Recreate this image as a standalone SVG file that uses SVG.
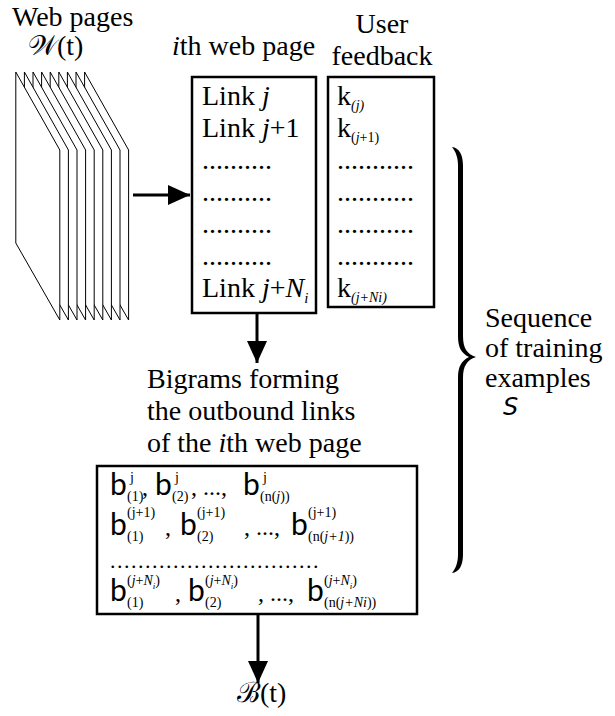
<svg xmlns="http://www.w3.org/2000/svg" width="615" height="716" viewBox="0 0 615 716">
<style>
.t{font-family:"Liberation Serif","Times New Roman","DejaVu Serif",serif;font-size:28px;fill:#000}
.b{font-family:Lato,"DejaVu Sans",sans-serif;font-size:30px;fill:#000}
.s{font-family:"Liberation Serif","Times New Roman","DejaVu Serif",serif;font-size:14px;fill:#000}
.c{font-family:"Liberation Serif","Times New Roman","DejaVu Serif",serif;font-size:24px;fill:#000}
.d{font-family:"Liberation Serif","Times New Roman","DejaVu Serif",serif;font-size:22px;letter-spacing:1.5px;fill:#000}
.i{font-style:italic}
.box{fill:#fff;stroke:#000;stroke-width:2.5}
.page{fill:#fff;stroke:#000;stroke-width:1}
.conn{stroke:#000;stroke-width:3;fill:none}
</style>
<defs>
<marker id="ah" markerUnits="userSpaceOnUse" markerWidth="22" markerHeight="20" refX="22" refY="10" orient="auto">
<path d="M0,0 L22,10 L0,20 Z" fill="#000"/>
</marker>
</defs>
<rect width="615" height="716" fill="#fff"/>

<g id="web-pages">
<text class="t" x="12" y="26">Web pages</text>
<text class="t" x="28" y="55">𝒲(t)</text>
<polygon class="page" points="84.6,72 128.6,150 128.6,320 84.6,243"/>
<polygon class="page" points="76,72 120,150 120,320 76,243"/>
<polygon class="page" points="67.4,72 111.4,150 111.4,320 67.4,243"/>
<polygon class="page" points="58.8,72 102.8,150 102.8,320 58.8,243"/>
<polygon class="page" points="50.2,72 94.2,150 94.2,320 50.2,243"/>
<polygon class="page" points="41.6,72 85.6,150 85.6,320 41.6,243"/>
<polygon class="page" points="33,72 77,150 77,320 33,243"/>
<polygon class="page" points="24.4,72 68.4,150 68.4,320 24.4,243"/>
<polygon class="page" points="15.8,72 59.8,150 59.8,320 15.8,243"/>
</g>

<g id="ith-web-page">
<text class="t" x="172" y="55"><tspan class="i">i</tspan>th web page</text>
<rect class="box" x="192" y="77" width="124" height="236"/>
<text class="t" x="202" y="105">Link <tspan class="i">j</tspan></text>
<text class="t" x="202" y="137">Link <tspan class="i">j</tspan>+1</text>
<text class="t" x="202" y="169">..........</text>
<text class="t" x="202" y="201">..........</text>
<text class="t" x="202" y="233">..........</text>
<text class="t" x="202" y="265">..........</text>
<text class="t" x="202" y="297">Link <tspan class="i">j</tspan>+<tspan class="i">N</tspan><tspan class="i" font-size="15" dy="6">i</tspan></text>
</g>

<g id="user-feedback">
<text class="t" x="382" y="33" text-anchor="middle">User</text>
<text class="t" x="382" y="65" text-anchor="middle">feedback</text>
<rect class="box" x="328" y="77" width="106" height="230"/>
<text class="t" x="337" y="105">k<tspan class="s i" dy="5">(j)</tspan></text>
<text class="t" x="337" y="137">k<tspan class="s" dy="5">(<tspan class="i">j</tspan>+1)</tspan></text>
<text class="t" x="337" y="169">...........</text>
<text class="t" x="337" y="201">...........</text>
<text class="t" x="337" y="233">...........</text>
<text class="t" x="337" y="265">...........</text>
<text class="t" x="337" y="297">k<tspan class="s i" dy="5">(j+Ni)</tspan></text>
</g>

<g id="bigrams-label">
<text class="t" x="147" y="388">Bigrams forming</text>
<text class="t" x="147" y="420">the outbound links</text>
<text class="t" x="147" y="452">of the <tspan class="i">i</tspan>th web page</text>
</g>

<g id="bigrams">
<rect class="box" x="97" y="466" width="320" height="148"/>
<text class="b" x="110" y="495">b</text>
<text class="s" x="127" y="501">(1)</text>
<text class="s" x="130" y="482">j</text>
<text class="c" x="142" y="495">,</text>
<text class="b" x="155" y="495">b</text>
<text class="s" x="172" y="501">(2)</text>
<text class="s" x="175" y="482">j</text>
<text class="c" x="191" y="495">, ..., </text>
<text class="b" x="243" y="495">b</text>
<text class="s" x="260" y="501">(n(<tspan class="i">j</tspan>))</text>
<text class="s" x="263" y="482">j</text>

<text class="b" x="110" y="535">b</text>
<text class="s" x="127" y="517">(j+1)</text>
<text class="s" x="127" y="541">(1)</text>
<text class="c" x="165" y="535">,</text>
<text class="b" x="180" y="535">b</text>
<text class="s" x="197" y="517">(j+1)</text>
<text class="s" x="197" y="541">(2)</text>
<text class="c" x="244" y="535">, ..., </text>
<text class="b" x="291" y="535">b</text>
<text class="s" x="308" y="517">(j+1)</text>
<text class="s" x="308" y="541">(n(<tspan class="i">j+1</tspan>))</text>

<text class="d" x="110" y="568">..............................</text>

<text class="b" x="110" y="601">b</text>
<text class="s" x="127" y="585">(<tspan class="i">j</tspan>+<tspan class="i">N</tspan><tspan class="i" font-size="9" dy="4">i</tspan><tspan dy="-4">)</tspan></text>
<text class="s" x="127" y="607">(1)</text>
<text class="c" x="175" y="601">,</text>
<text class="b" x="188" y="601">b</text>
<text class="s" x="205" y="585">(<tspan class="i">j</tspan>+<tspan class="i">N</tspan><tspan class="i" font-size="9" dy="4">i</tspan><tspan dy="-4">)</tspan></text>
<text class="s" x="205" y="607">(2)</text>
<text class="c" x="258" y="601">, ..., </text>
<text class="b" x="307" y="601">b</text>
<text class="s" x="324" y="585">(<tspan class="i">j</tspan>+<tspan class="i">N</tspan><tspan class="i" font-size="9" dy="4">i</tspan><tspan dy="-4">)</tspan></text>
<text class="s" x="324" y="607">(n(<tspan class="i">j+Ni</tspan>))</text>
</g>

<g id="training-sequence">
<path d="M452,147 C459,148 463,154 463,166 L463,336 C463,348 467,354 476,357 C467,360 463,366 463,378 L463,554 C463,566 459,572 452,573 C456,568 458,562 458,554 L458,378 C458,367 461,361 469,357 C461,353 458,347 458,336 L458,166 C458,158 456,152 452,147 Z" fill="#000"/>
<text class="t" x="485" y="327">Sequence</text>
<text class="t" x="485" y="357">of training</text>
<text class="t" x="485" y="387">examples</text>
<text x="503" y="415" font-family="'DejaVu Sans',sans-serif" font-style="italic" font-size="24">S</text>
</g>

<g id="output">
<text class="t" x="237" y="702">ℬ(t)</text>
</g>

<g id="connectors">
<line class="conn" x1="133" y1="195" x2="190" y2="195" marker-end="url(#ah)"/>
<line class="conn" x1="257" y1="313" x2="257" y2="363" marker-end="url(#ah)"/>
<line class="conn" x1="258" y1="615" x2="258" y2="683" marker-end="url(#ah)"/>
</g>
</svg>
